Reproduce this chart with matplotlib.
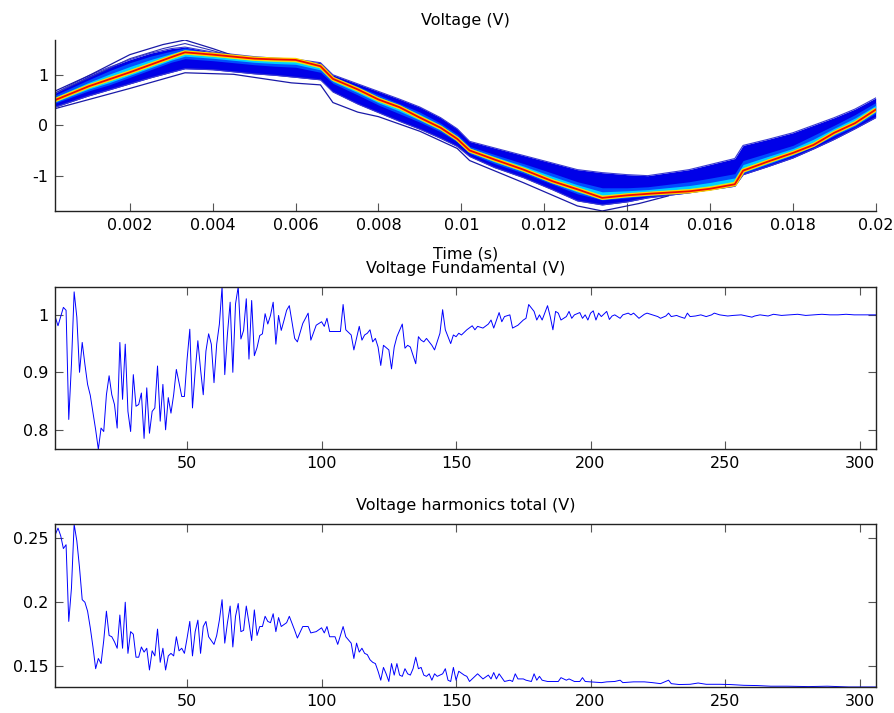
import numpy as np
import matplotlib
matplotlib.use("Agg")
import matplotlib.pyplot as plt
from matplotlib.ticker import FormatStrFormatter

plt.rcParams['font.family'] = ['DejaVu Sans']
plt.rcParams['font.size'] = 11.5
plt.rcParams['axes.unicode_minus'] = False

# ---- waveform panel: sample times (s) and voltage levels (V) ----
t = [0.0002, 0.001, 0.0015, 0.002, 0.0025, 0.003, 0.00333, 0.004, 0.005,
     0.0055, 0.006, 0.0066, 0.0069, 0.0075, 0.008, 0.0085, 0.009, 0.0095,
     0.0099, 0.0102, 0.0108, 0.0115, 0.0122, 0.0128, 0.0134, 0.014, 0.0145,
     0.0155, 0.016, 0.0166, 0.0168, 0.0174, 0.018, 0.0185, 0.019, 0.0195,
     0.02]
v_final = [0.50, 0.77, 0.91, 1.05, 1.20, 1.35, 1.445, 1.40, 1.32,
           1.305, 1.295, 1.17, 0.92, 0.71, 0.51, 0.36, 0.15, -0.05,
           -0.27, -0.50, -0.68, -0.88, -1.11, -1.27, -1.44, -1.39, -1.36,
           -1.31, -1.26, -1.17, -0.90, -0.72, -0.55, -0.39, -0.15, 0.04,
           0.31]
v_top = [0.64, 0.98, 1.15, 1.30, 1.43, 1.52, 1.55, 1.45, 1.36,
         1.33, 1.31, 1.24, 1.00, 0.82, 0.67, 0.52, 0.36, 0.15,
         -0.07, -0.32, -0.45, -0.60, -0.75, -0.88, -0.94, -0.98, -1.00,
         -0.88, -0.78, -0.66, -0.40, -0.28, -0.15, 0.00, 0.15, 0.32,
         0.54]
v_bot = [0.36, 0.58, 0.70, 0.82, 0.94, 1.05, 1.12, 1.10, 1.02,
         0.99, 0.95, 0.90, 0.66, 0.42, 0.25, 0.08, -0.08, -0.26,
         -0.42, -0.62, -0.84, -1.04, -1.28, -1.50, -1.58, -1.52, -1.44,
         -1.34, -1.28, -1.21, -0.98, -0.82, -0.65, -0.47, -0.28, -0.07,
         0.15]
v_top_in = [0.60, 0.90, 1.08, 1.24, 1.37, 1.47, 1.53, 1.43, 1.34,
            1.32, 1.30, 1.20, 0.96, 0.77, 0.60, 0.43, 0.26, 0.04,
            -0.18, -0.42, -0.58, -0.76, -0.95, -1.12, -1.24, -1.24, -1.22,
            -1.12, -1.05, -0.96, -0.70, -0.55, -0.40, -0.20, 0.00, 0.21,
            0.45]
v_bot_in = [0.44, 0.68, 0.80, 0.95, 1.10, 1.25, 1.32, 1.28, 1.20,
            1.17, 1.15, 1.05, 0.83, 0.60, 0.40, 0.23, 0.06, -0.13,
            -0.33, -0.56, -0.76, -0.95, -1.17, -1.36, -1.48, -1.44, -1.40,
            -1.33, -1.27, -1.20, -0.95, -0.78, -0.60, -0.42, -0.21, -0.02,
            0.24]

# isolated early-iteration traces outside the main band
hi_t = [0.0002, 0.001, 0.002, 0.0028, 0.00333, 0.004, 0.0045]
hi_v1 = [0.68, 0.98, 1.40, 1.60, 1.69, 1.52, 1.38]
hi_v2 = [0.64, 0.94, 1.32, 1.52, 1.62, 1.48, 1.36]
lo_t = [0.0002, 0.002, 0.00333, 0.0045, 0.0059, 0.0066, 0.0069, 0.0075,
        0.008, 0.009, 0.0099, 0.0102, 0.0115, 0.0128, 0.0134, 0.0143, 0.015]
lo_v = [0.33, 0.73, 1.04, 1.01, 0.84, 0.80, 0.45, 0.26,
        0.17, -0.12, -0.46, -0.70, -1.14, -1.60, -1.70, -1.55, -1.40]

# ---- fundamental amplitude per iteration ----
fund_idx = [1, 2, 4, 5, 6, 7, 8, 9, 10, 11, 12, 13, 14, 15, 16, 17, 18, 19,
            20, 21, 22, 23, 24, 25, 26, 27, 28, 29, 30, 31, 32, 33, 34, 35,
            36, 37, 38, 39, 40, 41, 42, 43, 44, 45, 46, 47, 48, 49, 50, 51,
            52, 53, 54, 55, 56, 57, 58, 59, 60, 61, 62, 63, 64, 65, 66, 67,
            68, 69, 70, 71, 72, 73, 74, 75, 76, 77, 78, 79, 80, 81, 82, 83,
            84, 85, 86, 87, 88, 90, 91, 93, 95, 96, 98, 100, 101, 102, 103,
            105, 107, 108, 109, 111, 112, 114, 115, 116, 117, 118, 119, 120,
            121, 122, 123, 125, 126, 127, 128, 130, 131, 132, 133, 135, 136,
            137, 138, 139, 141, 142, 144, 145, 146, 148, 149, 150, 151, 152,
            154, 156, 157, 158, 160, 162, 163, 164, 166, 167, 168, 170, 171,
            173, 175, 176, 177, 179, 180, 181, 182, 184, 185, 186, 187, 188,
            189, 191, 192, 193, 194, 196, 197, 198, 199, 200, 201, 202, 203,
            204, 206, 207, 208, 209, 211, 212, 214, 215, 216, 218, 220, 221,
            223, 225, 226, 228, 229, 230, 232, 233, 235, 236, 237, 239, 241,
            243, 245, 246, 248, 251, 253, 256, 258, 260, 261, 263, 266, 268,
            271, 274, 277, 280, 283, 286, 289, 292, 295, 298, 301, 304, 306]
fund_val = [0.996, 0.981, 1.013, 1.008, 0.818, 0.914, 1.040, 0.996, 0.900,
            0.952, 0.914, 0.879, 0.860, 0.830, 0.800, 0.766, 0.803, 0.797,
            0.861, 0.894, 0.861, 0.844, 0.803, 0.952, 0.853, 0.949, 0.832,
            0.797, 0.896, 0.841, 0.844, 0.864, 0.785, 0.873, 0.794, 0.832,
            0.838, 0.911, 0.815, 0.879, 0.800, 0.856, 0.829, 0.861, 0.905,
            0.882, 0.858, 0.858, 0.923, 0.975, 0.838, 0.902, 0.955, 0.905,
            0.861, 0.937, 0.967, 0.949, 0.882, 0.949, 0.984, 1.049, 0.896,
            0.967, 1.022, 0.900, 1.019, 1.049, 0.958, 0.973, 1.028, 0.923,
            1.025, 0.929, 0.943, 0.964, 0.967, 1.002, 0.984, 0.999, 1.022,
            0.949, 0.999, 0.973, 0.990, 1.008, 1.016, 0.959, 0.953, 0.985,
            1.003, 0.956, 0.982, 0.988, 0.980, 0.994, 0.971, 0.971, 0.971,
            1.018, 0.974, 0.965, 0.939, 0.980, 0.956, 0.965, 0.968, 0.974,
            0.953, 0.959, 0.944, 0.912, 0.947, 0.939, 0.906, 0.944, 0.962,
            0.984, 0.942, 0.947, 0.944, 0.915, 0.962, 0.956, 0.953, 0.959,
            0.947, 0.939, 0.968, 1.009, 0.974, 0.950, 0.965, 0.962, 0.968,
            0.965, 0.974, 0.981, 0.974, 0.980, 0.977, 0.984, 0.991, 0.977,
            1.004, 0.988, 0.997, 1.000, 0.977, 0.982, 0.991, 0.994, 1.018,
            1.006, 0.991, 1.000, 0.991, 1.016, 0.997, 0.974, 1.006, 1.003,
            0.991, 0.997, 1.006, 0.994, 1.000, 1.004, 0.994, 1.000, 0.991,
            1.003, 1.007, 0.991, 1.003, 0.997, 1.006, 0.992, 0.998, 1.000,
            0.994, 1.000, 1.003, 1.000, 1.003, 0.994, 1.001, 1.003, 1.000,
            0.997, 0.994, 0.998, 1.003, 0.997, 0.999, 0.997, 0.994, 1.003,
            0.997, 0.998, 1.000, 0.997, 1.000, 1.003, 1.000, 0.998, 0.999,
            1.000, 0.998, 0.996, 0.998, 1.000, 0.998, 1.001, 0.999, 1.000,
            1.001, 0.999, 1.000, 1.001, 1.000, 1.000, 1.001, 1.000, 1.000,
            1.000, 1.000]

# ---- total harmonic amplitude per iteration ----
harm_idx = [1, 2, 3, 4, 5, 6, 7, 8, 9, 10, 11, 12, 13, 14, 15, 16, 17, 18,
            19, 20, 21, 22, 23, 24, 25, 26, 27, 28, 29, 30, 31, 32, 33, 34,
            35, 36, 37, 38, 39, 40, 41, 42, 43, 44, 45, 46, 47, 48, 49, 50,
            51, 52, 53, 54, 55, 56, 57, 58, 60, 61, 62, 63, 64, 65, 66, 67,
            68, 69, 70, 71, 72, 73, 74, 75, 76, 77, 78, 79, 80, 81, 82, 83,
            84, 85, 87, 88, 90, 91, 93, 95, 96, 98, 100, 101, 102, 103, 105,
            106, 107, 108, 109, 111, 112, 113, 114, 115, 116, 117, 118, 119,
            120, 121, 122, 123, 124, 125, 126, 127, 128, 129, 130, 131, 132,
            133, 134, 135, 136, 137, 138, 139, 140, 141, 142, 143, 145, 146,
            147, 148, 149, 150, 151, 153, 154, 155, 157, 158, 159, 160, 162,
            163, 164, 165, 166, 168, 170, 171, 172, 173, 175, 176, 178, 179,
            180, 181, 182, 184, 186, 188, 189, 191, 192, 194, 196, 197, 198,
            200, 204, 206, 209, 211, 212, 216, 220, 223, 226, 229, 230, 233,
            237, 240, 243, 248, 252, 257, 262, 267, 273, 281, 288, 296, 306]
harm_val = [0.253, 0.258, 0.252, 0.242, 0.245, 0.185, 0.211, 0.261, 0.248,
            0.227, 0.202, 0.200, 0.193, 0.180, 0.165, 0.148, 0.156, 0.152,
            0.170, 0.193, 0.174, 0.173, 0.169, 0.164, 0.190, 0.164, 0.200,
            0.160, 0.177, 0.175, 0.157, 0.157, 0.165, 0.161, 0.164, 0.147,
            0.162, 0.158, 0.179, 0.153, 0.164, 0.147, 0.158, 0.160, 0.158,
            0.173, 0.162, 0.164, 0.160, 0.172, 0.185, 0.158, 0.177, 0.186,
            0.160, 0.181, 0.185, 0.173, 0.167, 0.174, 0.186, 0.202, 0.168,
            0.184, 0.197, 0.165, 0.189, 0.199, 0.177, 0.178, 0.197, 0.184,
            0.170, 0.194, 0.174, 0.181, 0.181, 0.189, 0.185, 0.184, 0.191,
            0.177, 0.188, 0.181, 0.184, 0.189, 0.178, 0.172, 0.181, 0.181,
            0.176, 0.177, 0.180, 0.176, 0.181, 0.173, 0.173, 0.167, 0.174,
            0.181, 0.173, 0.168, 0.156, 0.168, 0.161, 0.164, 0.160, 0.159,
            0.155, 0.153, 0.152, 0.146, 0.139, 0.149, 0.144, 0.138, 0.152,
            0.143, 0.152, 0.143, 0.142, 0.148, 0.144, 0.143, 0.148, 0.157,
            0.148, 0.149, 0.143, 0.142, 0.144, 0.139, 0.144, 0.142, 0.144,
            0.148, 0.139, 0.138, 0.149, 0.139, 0.146, 0.143, 0.142, 0.138,
            0.142, 0.144, 0.142, 0.140, 0.143, 0.140, 0.145, 0.140, 0.144,
            0.138, 0.139, 0.138, 0.144, 0.140, 0.140, 0.139, 0.138, 0.144,
            0.139, 0.142, 0.139, 0.138, 0.138, 0.138, 0.141, 0.139, 0.140,
            0.138, 0.138, 0.141, 0.138, 0.1377, 0.1371, 0.1377, 0.138, 0.139,
            0.1371, 0.1377, 0.1377, 0.1371, 0.1363, 0.139, 0.1363, 0.1356,
            0.1358, 0.1368, 0.1358, 0.1358, 0.1356, 0.135, 0.1348, 0.1343,
            0.1343, 0.134, 0.1343, 0.1337, 0.1337]


def matlab_axes(ax, box=True):
    for side in ('top', 'right'):
        ax.spines[side].set_visible(box)
    for s in ax.spines.values():
        s.set_linewidth(1.0)
        s.set_color('#222222')
    ax.tick_params(direction='in', length=6, width=0.8, color='#555555',
                   top=box, right=box, labelsize=11.5, pad=5)


fig = plt.figure(figsize=(8.95, 7.13), dpi=100)
ax1 = fig.add_axes([0.0618, 0.7041, 0.9166, 0.2398])
ax2 = fig.add_axes([0.0618, 0.3698, 0.9166, 0.2281])
ax3 = fig.add_axes([0.0618, 0.0365, 0.9166, 0.2282])

# waveforms: spread of all iterations, coloured early (blue) -> late (red)
jet = plt.get_cmap('jet')
tt = np.array(t)
vf = np.array(v_final)
ax1.fill_between(tt, v_bot, v_top, color=jet(0.09), lw=0)
ax1.plot(t, v_top, color='#3a3ad0', lw=0.8)
ax1.plot(t, v_bot, color='#3a3ad0', lw=0.8)
ax1.fill_between(tt, v_bot_in, v_top_in, color=jet(0.2), lw=0)
for frac, c in [(0.6, 0.33), (0.3, 0.5)]:
    lo = vf + frac * (np.array(v_bot_in) - vf)
    hi = vf + frac * (np.array(v_top_in) - vf)
    ax1.fill_between(tt, lo, hi, color=jet(c), lw=0)
ax1.plot(hi_t, hi_v1, color='#1a1aa8', lw=0.9)
ax1.plot(hi_t, hi_v2, color='#3333b8', lw=0.8)
ax1.plot(lo_t, lo_v, color='#1a1aa8', lw=0.9)
ax1.plot(t, v_final, color=jet(0.68), lw=3.0, solid_capstyle='butt')
ax1.plot(t, v_final, color=jet(0.9), lw=1.3)
ax1.set_xlim(t[0], t[-1])
ax1.set_ylim(min(lo_v), max(hi_v1))
ax1.set_xticks(np.arange(0.002, 0.0201, 0.002))
ax1.set_yticks([-1, 0, 1])
ax1.xaxis.set_major_formatter(FormatStrFormatter('%g'))
ax1.set_title('Voltage (V)', fontsize=11.5, pad=11)
ax1.set_xlabel('Time (s)', fontsize=11.5, labelpad=10)
matlab_axes(ax1, box=False)

ax2.plot(fund_idx, fund_val, color='b', lw=0.7)
ax2.set_xlim(1, 306)
ax2.set_ylim(min(fund_val), max(fund_val))
ax2.set_xticks(range(50, 301, 50))
ax2.set_yticks([0.8, 0.9, 1.0])
ax2.yaxis.set_major_formatter(FormatStrFormatter('%g'))
ax2.set_title('Voltage Fundamental (V)', fontsize=11.5, pad=10)
matlab_axes(ax2)

ax3.plot(harm_idx, harm_val, color='b', lw=0.7)
ax3.set_xlim(1, 306)
ax3.set_ylim(min(harm_val), max(harm_val))
ax3.set_xticks(range(50, 301, 50))
ax3.set_yticks([0.15, 0.2, 0.25])
ax3.yaxis.set_major_formatter(FormatStrFormatter('%g'))
ax3.set_title('Voltage harmonics total (V)', fontsize=11.5, pad=10)
matlab_axes(ax3)

fig.savefig('out.png', dpi=100)
